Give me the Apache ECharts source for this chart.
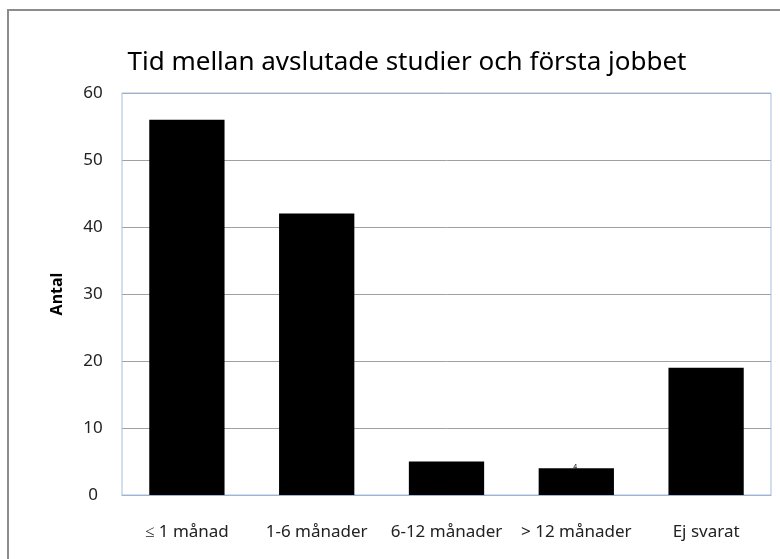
<!DOCTYPE html>
<html>
<head>
<meta charset="utf-8">
<script src="https://cdn.jsdelivr.net/npm/echarts@6/dist/echarts.min.js"></script>
<style>
  html, body { margin: 0; padding: 0; background: #fff; }
  #chart { width: 780px; height: 559px; }
</style>
</head>
<body>
<div id="chart"></div>
<script>
// kategorier och antal
var categories = ['≤ 1 månad', '1-6 månader', '6-12 månader', '> 12 månader', 'Ej svarat'];
var antal = [56, 42, 5, 4, 19];
var yTicks = [0, 10, 20, 30, 40, 50, 60];

var chart = echarts.init(document.getElementById('chart'));

var option = {
  animation: false,
  backgroundColor: '#fff',
  title: {
    text: 'Tid mellan avslutade studier och första jobbet',
    left: 402,
    textAlign: 'center',
    top: 45,
    textStyle: {
      fontFamily: 'Noto Sans',
      fontWeight: 'normal',
      fontSize: 26,
      color: '#000'
    }
  },
  graphic: [{
    type: 'rect',
    shape: { x: 8, y: 10, width: 800, height: 600 },
    style: { fill: 'none', stroke: '#8c8c8c', lineWidth: 2 },
    silent: true
  }, {
    // ramen runt ritytan
    type: 'rect',
    shape: { x: 122, y: 93, width: 649, height: 402 },
    style: { fill: 'none', stroke: '#a6bde0', lineWidth: 1 },
    silent: true,
    z: 1
  }],
  grid: {
    left: 122,
    top: 93,
    width: 649,
    height: 402
  },
  xAxis: {
    type: 'category',
    data: categories,
    axisLine: { lineStyle: { color: '#9aa9c4', width: 1 } },
    axisTick: { show: false },
    axisLabel: {
      interval: 0,
      hideOverlap: false,
      fontFamily: 'Noto Sans',
      fontSize: 17,
      color: '#222',
      margin: 29
    }
  },
  yAxis: {
    type: 'value',
    min: yTicks[0],
    max: yTicks[yTicks.length - 1],
    interval: 10,
    name: 'Antal',
    nameLocation: 'middle',
    nameGap: 57,
    nameRotate: 90,
    nameTextStyle: {
      fontFamily: 'Noto Sans',
      fontWeight: 'bold',
      fontSize: 16,
      color: '#000'
    },
    axisLine: { show: false },
    axisTick: { show: false },
    axisLabel: {
      fontFamily: 'Noto Sans',
      fontSize: 17,
      color: '#222',
      margin: 29,
      align: 'center'
    },
    splitLine: { lineStyle: { color: '#a0a0a0', width: 1 } }
  },
  series: [{
    type: 'bar',
    data: antal.map(function (v, i) {
      // liten etikett som syns ovanför stapel 4 i originalet
      if (i === 3) {
        return { value: v, label: { show: true, position: 'top', distance: 0, fontSize: 7, color: '#000', offset: [-1, 2] } };
      }
      return v;
    }),
    barWidth: '58%',
    itemStyle: { color: '#000' },
    z: 3
  }]
};

chart.setOption(option);
</script>
</body>
</html>
